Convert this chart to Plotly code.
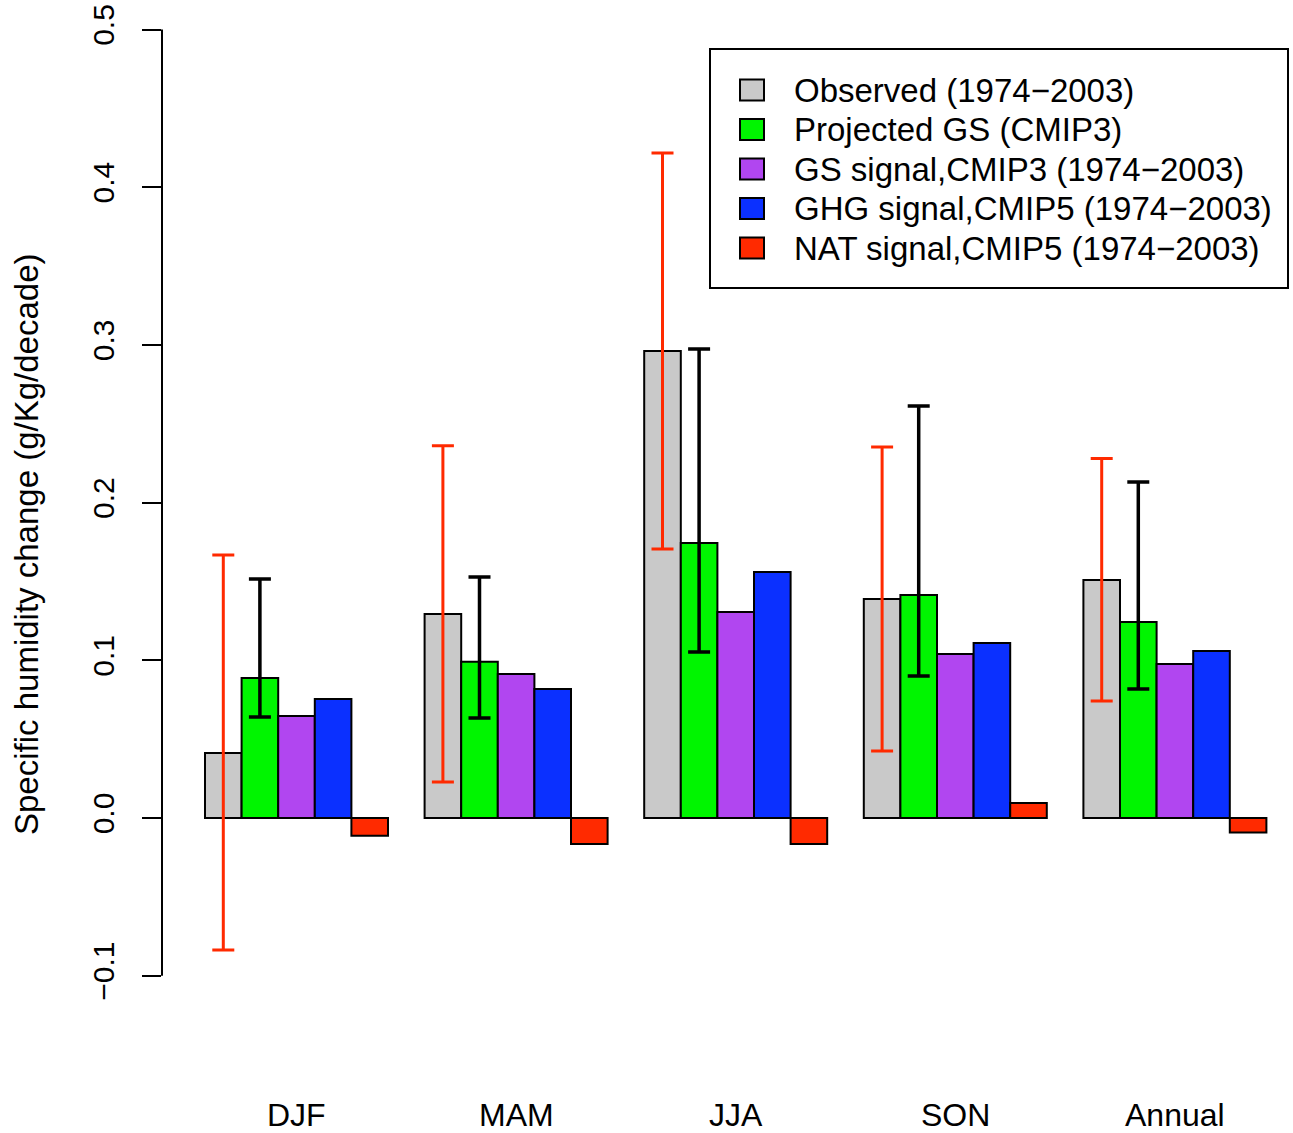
import plotly.graph_objects as go

# ---------------- data ----------------
seasons = ["DJF", "MAM", "JJA", "SON", "Annual"]
series_names = [
    "Observed (1974\u22122003)",
    "Projected GS (CMIP3)",
    "GS signal,CMIP3 (1974\u22122003)",
    "GHG signal,CMIP5 (1974\u22122003)",
    "NAT signal,CMIP5 (1974\u22122003)",
]
observed = [0.0412, 0.1294, 0.2961, 0.1389, 0.1509]
projected_gs = [0.0888, 0.0991, 0.1744, 0.1414, 0.1243]
gs_signal = [0.0647, 0.0913, 0.1306, 0.1040, 0.0977]
ghg_signal = [0.0755, 0.0818, 0.1560, 0.1110, 0.1059]
nat_signal = [-0.0112, -0.0165, -0.0165, 0.0095, -0.0092]

# uncertainty ranges (upper / lower bounds)
observed_hi = [0.1668, 0.2360, 0.4217, 0.2353, 0.2280]
observed_lo = [-0.0837, 0.0228, 0.1706, 0.0425, 0.0742]
projected_hi = [0.1516, 0.1528, 0.2974, 0.2613, 0.2131]
projected_lo = [0.0640, 0.0634, 0.1053, 0.0900, 0.0818]

y_ticks = [-0.1, 0.0, 0.1, 0.2, 0.3, 0.4, 0.5]
y_tick_text = ["\u22120.1", "0.0", "0.1", "0.2", "0.3", "0.4", "0.5"]

colors = ["#c9c9c9", "#00f500", "#b146f0", "#0b30ff", "#ff2a00"]
err_red = "#ff2a00"

# ---------------- layout helpers ----------------
W, H = 1293, 1133
ML = 162
BAR_PX = 36.6           # pixel width of one bar unit
X0_PX = 205             # pixel of first bar's left edge (unit 1)
ZERO_PX = 818           # pixel of y = 0
UNIT_PX = 1577          # pixels per 1.0 of y


def px2x(p):
    """pixel x -> bar-unit axis coordinate"""
    return 1 + (p - X0_PX) / BAR_PX


def py2y(p):
    """pixel y -> data coordinate"""
    return (ZERO_PX - p) / UNIT_PX


FONT = "Liberation Sans, Arial, Helvetica, sans-serif"

all_series = [observed, projected_gs, gs_signal, ghg_signal, nat_signal]
n_groups = len(seasons)
n_series = len(all_series)
group_step = n_series + 1  # one empty bar-width between groups


def centers(i):
    return [g * group_step + 1 + i + 0.5 for g in range(n_groups)]


fig = go.Figure()
for i, (name, vals) in enumerate(zip(series_names, all_series)):
    kw = {}
    if i == 0:
        kw["error_y"] = dict(
            type="data", symmetric=False,
            array=[h - v for h, v in zip(observed_hi, vals)],
            arrayminus=[v - l for l, v in zip(observed_lo, vals)],
            color=err_red, thickness=3, width=11,
        )
    elif i == 1:
        kw["error_y"] = dict(
            type="data", symmetric=False,
            array=[h - v for h, v in zip(projected_hi, vals)],
            arrayminus=[v - l for l, v in zip(projected_lo, vals)],
            color="black", thickness=3.5, width=11,
        )
    fig.add_trace(go.Bar(
        x=centers(i), y=vals, width=1.0, name=name,
        marker=dict(color=colors[i], line=dict(color="black", width=2)),
        showlegend=False, **kw,
    ))

shapes = []
annotations = []

# y axis line from -0.1 to 0.5
shapes.append(dict(type="line", xref="paper", yref="y", x0=0, x1=0,
                   y0=y_ticks[0], y1=y_ticks[-1],
                   line=dict(color="black", width=2)))

# category labels
for g, s in enumerate(seasons):
    cx = g * group_step + 1 + n_series / 2
    annotations.append(dict(x=cx, y=py2y(1115), xref="x", yref="y", text=s,
                            showarrow=False, font=dict(size=32, color="black", family=FONT),
                            xanchor="center", yanchor="middle"))

# axis title
annotations.append(dict(x=(26 - ML) / (W - ML), y=py2y(544), xref="paper", yref="y",
                        text="Specific humidity change (g/Kg/decade)", textangle=-90,
                        showarrow=False, font=dict(size=33, color="black", family=FONT),
                        xanchor="center", yanchor="middle"))

# legend box
shapes.append(dict(type="rect", xref="x", yref="y",
                   x0=px2x(710), x1=px2x(1288), y0=py2y(49), y1=py2y(288),
                   line=dict(color="black", width=2), fillcolor="rgba(0,0,0,0)"))
row_y = [90, 129.5, 169, 208.5, 248]
for name, col, ry in zip(series_names, colors, row_y):
    shapes.append(dict(type="rect", xref="x", yref="y",
                       x0=px2x(740), x1=px2x(764), y0=py2y(ry - 10.5), y1=py2y(ry + 10.5),
                       line=dict(color="black", width=2), fillcolor=col))
    annotations.append(dict(x=px2x(792), y=py2y(ry), xref="x", yref="y", text=name,
                            showarrow=False, font=dict(size=33, color="black", family=FONT),
                            xanchor="left", yanchor="middle"))

fig.update_layout(
    width=W, height=H,
    margin=dict(l=ML, r=0, t=0, b=0),
    paper_bgcolor="white", plot_bgcolor="white",
    barmode="overlay", bargap=0,
    showlegend=False,
    hovermode=False,
    font=dict(family=FONT, color="black"),
    shapes=shapes, annotations=annotations,
    xaxis=dict(range=[px2x(ML), px2x(W)], visible=False, showgrid=False,
               zeroline=False),
    yaxis=dict(range=[py2y(H), py2y(0)], tickmode="array", tickvals=y_ticks,
               ticktext=y_tick_text, ticks="outside", ticklen=19, tickwidth=2,
               tickcolor="black", tickangle=-90, showgrid=False, zeroline=False,
               showline=False, ticklabelstandoff=16, ticklabeloverflow="allow",
               tickfont=dict(size=30, color="black", family=FONT)),
)

fig.write_html(
    "out.html",
    config={"displayModeBar": False, "staticPlot": True},
    post_script="document.body.style.margin='0';document.body.style.overflow='hidden';",
)
